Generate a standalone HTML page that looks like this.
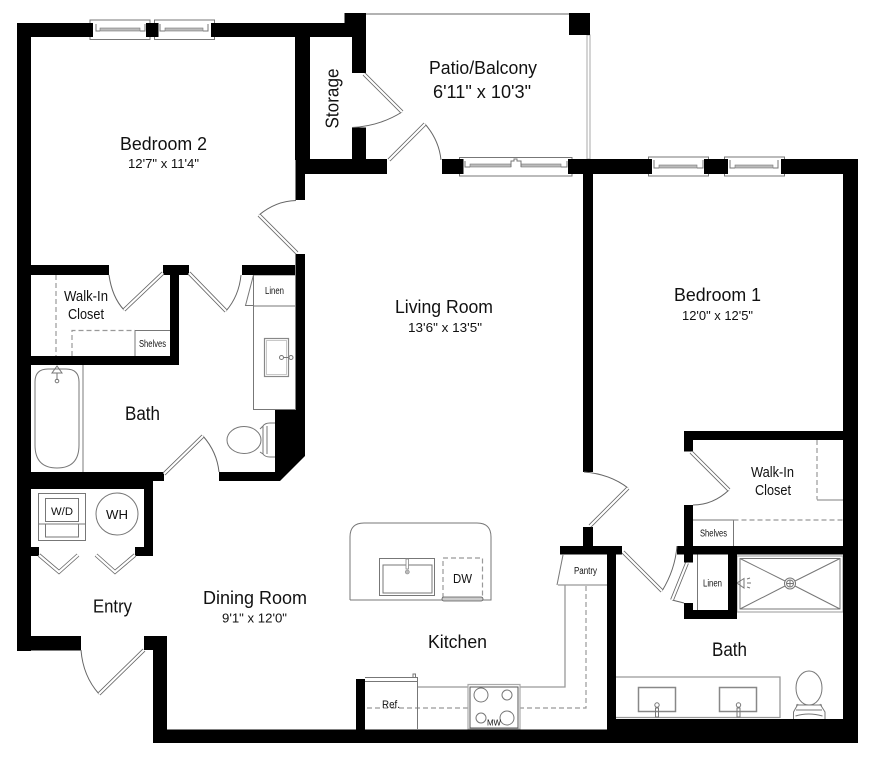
<!DOCTYPE html>
<html><head><meta charset="utf-8"><title>Floor plan</title>
<style>
html,body{margin:0;padding:0;background:#fff}
svg{display:block}
text{font-family:"Liberation Sans",sans-serif;fill:#111}
.w{fill:#000}
.l{fill:none;stroke:#777;stroke-width:1}
.g{fill:none;stroke:#999;stroke-width:1.3}
.d{fill:none;stroke:#999;stroke-width:1.2;stroke-dasharray:5 3}
.a{fill:none;stroke:#666;stroke-width:1}
.o{fill:none;stroke:#666;stroke-width:3.8;stroke-linecap:butt}
.i{fill:none;stroke:#fff;stroke-width:2.2}
</style></head><body>
<svg width="884" height="768" viewBox="0 0 884 768" xmlns="http://www.w3.org/2000/svg">
<rect width="884" height="768" fill="#fff"/>

<!-- fixtures under walls -->
<g>
<!-- windows -->
<g class="l">
<rect x="90" y="20" width="60" height="19.5"/><rect x="154.5" y="20" width="60" height="19.5"/>
<rect x="459.5" y="157.5" width="112.5" height="18.5"/>
<rect x="648.5" y="157" width="60" height="19"/><rect x="724.5" y="157" width="60" height="19"/>
</g>
<g fill="#bbb" stroke="#777" stroke-width=".6">
<rect x="100" y="28" width="40" height="3"/><rect x="165" y="28" width="38" height="3"/>
<rect x="470" y="164" width="41" height="3"/><rect x="521" y="164" width="40" height="3"/>
<rect x="659" y="165" width="38" height="3"/><rect x="735" y="165" width="38" height="3"/>
</g>
<g class="l">
<path d="M96 24v7h4M145 24v7h-5M160 24v7h5M208 24v7h-5"/>
<path d="M465 161v6h5M567 161v6h-6M511 167v-6h3v-2h3v2h4v6"/>
<path d="M654 160v8h5M703 160v8h-6M730 160v8h5M778 160v8h-5"/>
</g>

<!-- patio rails -->
<path d="M366 14H569" stroke="#999" stroke-width="1.5" fill="none"/>
<rect x="587" y="35" width="3" height="124" fill="#fff" stroke="#aaa" stroke-width="1"/>

<!-- closet left -->
<path class="d" d="M56 275V356"/>
<path class="d" d="M72 356V330.5H135"/>
<path class="l" d="M135 330.5H170M135 330.5V356"/>

<!-- vanity bath 2 -->
<path class="l" d="M295 275H253.500V409.500H295M253.500 306H295M253.500 275L245.500 305.500H253.500"/>
<rect x="264.500" y="338.500" width="24" height="38" fill="none" stroke="#888" stroke-width="1.2"/>
<rect x="266.500" y="340.500" width="20" height="34" fill="none" stroke="#bbb" stroke-width=".8"/>
<g class="l"><circle cx="281.500" cy="357.500" r="2"/><circle cx="291" cy="357.500" r="2"/><path d="M283 357.500h6"/></g>

<!-- tub -->
<path class="g" d="M83 365V472"/>
<path class="l" d="M35 382Q35 369 48 369H66Q79 369 79 382V445Q79 468 57 468Q35 468 35 445Z"/>
<path class="l" d="M57 366L52 373H62ZM57 373V380"/><circle cx="57" cy="381" r="1.800" class="l"/>

<!-- toilet bath 2 -->
<ellipse cx="244" cy="440" rx="17" ry="13.500" class="l"/>
<path class="l" d="M260 429L263 426Q265 423 270 423H275M260 452L263 454Q265 457 270 457H275M263 426V454M267 426V454"/>

<!-- W/D & WH -->
<g class="l">
<rect x="38.500" y="493.500" width="47" height="47"/><rect x="45.500" y="498.500" width="33" height="23"/>
<path d="M38.500 524H85.500"/><rect x="45.500" y="524" width="33" height="13"/>
<circle cx="117" cy="514" r="21"/>
</g>

<!-- island -->
<path class="l" d="M350 600V537Q350 523 364 523H477Q491 523 491 537V600H350"/>
<g class="l"><rect x="379.500" y="558.500" width="55" height="37"/><rect x="383" y="565" width="49" height="28"/></g>
<rect x="406" y="559" width="2.500" height="10" fill="#fff" stroke="#888" stroke-width=".8"/><circle cx="407.300" cy="572" r="2" fill="#bbb" stroke="#888" stroke-width=".6"/>
<path class="d" d="M443 598V558H482.500V598"/>
<rect x="442" y="597" width="41" height="4" rx="2" fill="#ccc" stroke="#555" stroke-width=".8"/>

<!-- kitchen counter -->
<path class="g" d="M417 687H468M520 687H565V585M558 585H607"/>
<path class="l" d="M563 555L557 585"/>
<path class="d" d="M586 586V708H365"/>
<path class="l" d="M365 677.500H417.500V729M365 681.500H417.500"/><path class="l" d="M413 677v-3h2.500v3"/>
<rect x="468" y="684.500" width="52" height="44.500" fill="#fff" stroke="#aaa" stroke-width="1.200"/>
<rect x="470" y="687" width="48" height="41" fill="none" stroke="#555" stroke-width="1"/>
<g class="l"><circle cx="481" cy="695" r="7"/><circle cx="507" cy="695" r="5"/><circle cx="481" cy="718" r="5"/><circle cx="507" cy="718" r="7"/></g>

<!-- closet right -->
<path class="d" d="M817 440V499.500"/><path class="g" d="M817 500H843"/>
<path class="l" d="M693 520H733.500V546"/><path class="d" d="M733.500 520H843"/>

<!-- linen -->
<path class="l" d="M697.500 554V610"/>

<!-- shower -->
<rect x="737" y="556" width="106" height="56" fill="none" stroke="#aaa" stroke-width="1.200"/>
<rect x="740" y="558.500" width="100" height="50.500" class="l"/>
<path class="l" d="M740 558.500L785 581M840 558.500L795 581M740 609L785 586M840 609L795 586"/>
<circle cx="790" cy="583.500" r="5.500" class="l"/><circle cx="790" cy="583.500" r="3.500" class="l"/><path class="l" d="M786.500 583.500h7M790 580v7"/>
<path class="l" d="M737 583L744 578.500V588ZM747 579l3-1M747 583h4M747 587l3 1"/>

<!-- vanity bath 1 -->
<path class="g" d="M616 677H780V718M616 717.500H780"/>
<g fill="none" stroke="#888" stroke-width="1.500"><rect x="638.500" y="687.500" width="37" height="24"/><rect x="719.500" y="687.500" width="37" height="24"/></g>
<g class="l"><circle cx="657" cy="705" r="2.200"/><path d="M655.500 708h3v9h-3z"/><circle cx="738.500" cy="705" r="2.200"/><path d="M737 708h3v9h-3z"/></g>

<!-- toilet bath 1 -->
<ellipse cx="809" cy="688" rx="13" ry="17" class="l"/>
<path class="l" d="M798 704L793.500 712V719M820 704L825 712V719M796 710h26M795.500 716q13-4 27 0M796 705h26"/>
</g>

<!-- walls -->
<g class="w">
<rect x="17" y="23" width="14" height="628"/>
<rect x="17" y="23" width="76" height="14"/>
<rect x="146" y="23" width="12.500" height="14"/>
<rect x="211" y="23" width="155" height="14"/>
<rect x="344.500" y="13" width="21.500" height="24"/>
<rect x="295" y="37" width="15" height="123"/>
<rect x="295.500" y="159" width="91.500" height="15"/>
<rect x="295.500" y="159" width="9.500" height="41"/>
<rect x="352" y="37" width="14" height="36"/>
<rect x="352" y="127.500" width="14" height="32"/>
<rect x="569" y="13" width="21" height="22"/>
<rect x="442" y="159" width="21.500" height="15"/>
<rect x="568" y="159" width="84" height="15"/>
<rect x="704" y="159" width="24" height="15"/>
<rect x="781" y="159" width="77" height="15"/>
<rect x="843" y="159" width="15" height="584"/>
<rect x="583" y="174" width="10" height="298"/>
<rect x="583" y="527" width="10" height="20"/>
<rect x="560" y="546" width="62" height="8.500"/>
<rect x="607" y="554" width="9" height="176"/>
<rect x="607" y="719" width="251" height="24"/>
<rect x="153" y="729.500" width="460" height="13.500"/>
<rect x="153" y="636" width="14" height="107"/>
<rect x="144" y="636" width="23" height="14"/>
<rect x="17" y="636" width="64" height="14.500"/>
<rect x="356" y="679" width="9" height="51"/>
<!-- bed1 closet -->
<rect x="684" y="431" width="160" height="9"/>
<rect x="684" y="431" width="9" height="20.500"/>
<rect x="684" y="505" width="9" height="49"/>
<rect x="677" y="546" width="166" height="8.500"/>
<rect x="684" y="554" width="9" height="8.500"/>
<rect x="684" y="603" width="9" height="16"/>
<rect x="684" y="610" width="53" height="9"/>
<rect x="728" y="554" width="9" height="65"/>
<!-- left internals -->
<rect x="31" y="265" width="78" height="10"/>
<rect x="163" y="265" width="26" height="10"/>
<rect x="242" y="265" width="53" height="10"/>
<rect x="170" y="270" width="9" height="95"/>
<rect x="31" y="356" width="148" height="9"/>
<rect x="295.500" y="254" width="9.500" height="156"/>
<polygon points="275,410 305,410 305,456 280,481 219,481 219,472 275,472"/>
<rect x="31" y="472" width="122" height="17"/>
<rect x="150" y="472" width="14" height="9"/>
<rect x="144" y="481" width="9" height="75"/>
<rect x="135" y="547" width="18" height="9"/>
<rect x="31" y="547" width="8" height="9"/>
</g>

<!-- doors -->
<g>
<path class="a" d="M259 215Q276 201 296 200.500"/>
<path class="a" d="M109 275Q112 297 124 310"/>
<path class="a" d="M241 275Q239 296 226 311"/>
<path class="a" d="M203 436Q217 452 219 472"/>
<path class="a" d="M81 650Q83 676 99 694"/>
<path class="a" d="M402 112Q380 126 352 127.500"/>
<path class="a" d="M425 124Q439 140 441 160"/>
<path class="a" d="M628 488Q610 474 584 472"/>
<path class="a" d="M729 490Q713 505 693 505"/>
<path class="a" d="M662 591Q675 570 677 546"/>
<path class="a" d="M672 600L684 603"/>
<path class="o" d="M297 253L259 215M163 273L124 310M189 273L226 311M164 474L203 436M144 650L99 694M364 74L402 112M389 160L425 124M590 526L628 488M691 452L729 490M623 552L662 591M687 563L672 600M39 555L59 572L78 555M135 555L115 572L96 555"/>
<path class="i" d="M297 253L259 215M163 273L124 310M189 273L226 311M164 474L203 436M144 650L99 694M364 74L402 112M389 160L425 124M590 526L628 488M691 452L729 490M623 552L662 591M687 563L672 600M39 555L59 572L78 555M135 555L115 572L96 555"/>
</g>

<!-- labels -->
<g font-size="18">
<text x="120" y="150" textLength="87" lengthAdjust="spacingAndGlyphs">Bedroom 2</text>
<text x="429" y="74" textLength="108" lengthAdjust="spacingAndGlyphs">Patio/Balcony</text>
<text x="433" y="98" textLength="98" lengthAdjust="spacingAndGlyphs">6'11" x 10'3"</text>
<text transform="translate(338.500 128.500) rotate(-90)" textLength="60" lengthAdjust="spacingAndGlyphs">Storage</text>
<text x="395" y="313" textLength="98" lengthAdjust="spacingAndGlyphs">Living Room</text>
<text x="674" y="301" textLength="87" lengthAdjust="spacingAndGlyphs">Bedroom 1</text>
<text x="93" y="612.500" textLength="39" lengthAdjust="spacingAndGlyphs">Entry</text>
<text x="203" y="604" textLength="104" lengthAdjust="spacingAndGlyphs">Dining Room</text>
<text x="428" y="648" textLength="59" lengthAdjust="spacingAndGlyphs">Kitchen</text>
<text x="125" y="420" font-size="19" textLength="35" lengthAdjust="spacingAndGlyphs">Bath</text>
<text x="712" y="656" font-size="19" textLength="35" lengthAdjust="spacingAndGlyphs">Bath</text>
</g>
<g font-size="12.500">
<text x="128" y="168" textLength="71" lengthAdjust="spacingAndGlyphs">12'7" x 11'4"</text>
<text x="408" y="332" textLength="74" lengthAdjust="spacingAndGlyphs">13'6" x 13'5"</text>
<text x="682" y="320" textLength="71" lengthAdjust="spacingAndGlyphs">12'0" x 12'5"</text>
<text x="222" y="622.500" textLength="65" lengthAdjust="spacingAndGlyphs">9'1" x 12'0"</text>
<text x="453" y="583" textLength="19" lengthAdjust="spacingAndGlyphs">DW</text>
<text x="106" y="519" textLength="22" lengthAdjust="spacingAndGlyphs">WH</text>
</g>
<g font-size="14.500">
<text x="64" y="301" textLength="44" lengthAdjust="spacingAndGlyphs">Walk-In</text>
<text x="68" y="319" textLength="36" lengthAdjust="spacingAndGlyphs">Closet</text>
<text x="751" y="477" textLength="43" lengthAdjust="spacingAndGlyphs">Walk-In</text>
<text x="755" y="495" textLength="36" lengthAdjust="spacingAndGlyphs">Closet</text>
</g>
<g font-size="10">
<text x="265" y="294" textLength="19" lengthAdjust="spacingAndGlyphs">Linen</text>
<text x="139" y="347" textLength="27" lengthAdjust="spacingAndGlyphs">Shelves</text>
<text x="700" y="536.500" textLength="27" lengthAdjust="spacingAndGlyphs">Shelves</text>
<text x="703" y="586.500" textLength="19" lengthAdjust="spacingAndGlyphs">Linen</text>
<text x="574" y="574" textLength="23" lengthAdjust="spacingAndGlyphs">Pantry</text>
</g>
<text x="51" y="515" font-size="11" textLength="22" lengthAdjust="spacingAndGlyphs">W/D</text>
<text x="382" y="708" font-size="11" textLength="18" lengthAdjust="spacingAndGlyphs">Ref.</text>
<text x="487" y="725.500" font-size="8.500" textLength="14" lengthAdjust="spacingAndGlyphs">MW</text>
</svg>
</body></html>
